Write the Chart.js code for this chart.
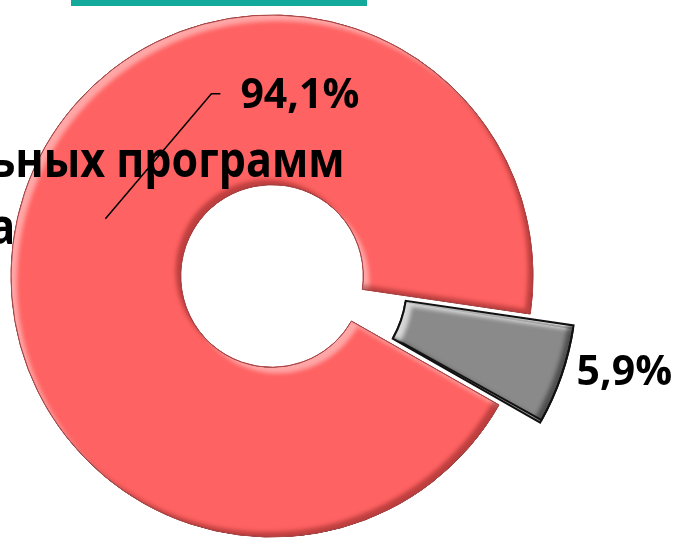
<!DOCTYPE html>
<html>
<head>
<meta charset="utf-8">
<script src="https://cdn.jsdelivr.net/npm/chart.js@4.4.0/dist/chart.umd.min.js"></script>
<style>
  html, body { margin: 0; padding: 0; background: #fff; }
  #wrap { position: relative; width: 673px; height: 538px; overflow: hidden; }
  #bar { position: absolute; left: 71px; top: 0; width: 296px; height: 6px; background: #13a99a; }
  .title { position: absolute; white-space: nowrap;
           font-family: "Open Sans", sans-serif; font-weight: 700; font-size: 50px; line-height: 1;
           color: #000; transform: scaleX(0.86); transform-origin: right bottom; z-index: 2; }
  canvas { position: absolute; left: 0; top: 0; }
</style>
</head>
<body>
<div id="wrap">
  <canvas id="c" width="673" height="538"></canvas>
  <div id="bar"></div>
  <div class="title" style="top:133px; right:328px;">ьных программ</div>
  <div class="title" style="top:200px; right:658px;">а</div>
</div>
<script>
// values
const labels = ['Доля 1', 'Доля 2'];
const shares = [94.1, 5.9];
const shareText = ['94,1%', '5,9%'];
const fills = ['#ff6262', '#8a8a8a'];
const edges = ['#b44848', '#111111'];

function arcShape(ctx, el) {
  const p = el.getProps(['x', 'y', 'startAngle', 'endAngle', 'innerRadius', 'outerRadius', 'circumference'], true);
  const off = (el.options.offset || 0) / 4;
  const half = (p.startAngle + p.endAngle) / 2;
  const fix = 1 - Math.sin(Math.min(Math.PI, p.circumference || 0));
  const cx = p.x + Math.cos(half) * off, cy = p.y + Math.sin(half) * off;
  const ro = off * fix;
  ctx.moveTo(cx + Math.cos(p.startAngle) * (p.outerRadius + ro), cy + Math.sin(p.startAngle) * (p.outerRadius + ro));
  ctx.arc(cx, cy, p.outerRadius + ro, p.startAngle, p.endAngle);
  ctx.arc(cx, cy, p.innerRadius + ro, p.endAngle, p.startAngle, true);
  ctx.closePath();
}

// soft bevel: light inner edge toward top-left, dark toward bottom-right
const bevel = {
  id: 'bevel',
  afterDatasetsDraw(chart) {
    const ctx = chart.ctx;
    const shades = [
      ['rgba(255,190,190,0.75)', 'rgba(110,20,20,0.45)'],
      ['rgba(235,235,235,0.8)', 'rgba(20,20,20,0.5)']
    ];
    chart.getDatasetMeta(0).data.forEach((el, i) => {
      [[6, 6, shades[i][0]], [-5, -5, shades[i][1]]].forEach(([dx, dy, col]) => {
        ctx.save();
        ctx.beginPath();
        arcShape(ctx, el);
        ctx.clip();
        ctx.beginPath();
        ctx.rect(-1000, -1000, 3000, 3000);
        arcShape(ctx, el);
        ctx.shadowColor = col;
        ctx.shadowOffsetX = dx;
        ctx.shadowOffsetY = dy;
        ctx.shadowBlur = 4;
        ctx.fillStyle = '#000';
        ctx.fill('evenodd');
        ctx.restore();
      });
      // redraw thin outline
      ctx.save();
      ctx.beginPath();
      arcShape(ctx, el);
      ctx.lineWidth = i === 0 ? 1 : 2;
      ctx.strokeStyle = edges[i];
      ctx.lineJoin = 'miter';
      ctx.stroke();
      ctx.restore();
    });
  }
};

const pctLabels = {
  id: 'pctLabels',
  afterDraw(chart) {
    const ctx = chart.ctx;
    const arcs = chart.getDatasetMeta(0).data;
    ctx.save();
    ctx.font = 'bold 41px "Open Sans"';
    ctx.fillStyle = '#000';
    ctx.textBaseline = 'middle';
    ctx.textAlign = 'left';
    // big slice: leader line from the ring centre
    const a = arcs[0].getCenterPoint();
    const elbow = { x: a.x + 106, y: a.y - 125 };
    ctx.beginPath();
    ctx.moveTo(a.x, a.y);
    ctx.lineTo(elbow.x, elbow.y);
    ctx.lineTo(elbow.x + 9, elbow.y);
    ctx.lineWidth = 1.5;
    ctx.strokeStyle = '#000';
    ctx.stroke();
    ctx.fillText(shareText[0], elbow.x + 29, elbow.y + 3);
    // small slice: label outside
    const b = arcs[1].getCenterPoint();
    ctx.fillText(shareText[1], b.x + 86, b.y + 22);
    ctx.restore();
  }
};

new Chart(document.getElementById('c'), {
  type: 'doughnut',
  data: {
    labels: labels,
    datasets: [{
      data: shares,
      backgroundColor: fills,
      borderColor: edges,
      borderWidth: [1, 2],
      offset: [0, 110],
      hoverOffset: 0
    }]
  },
  options: {
    responsive: false,
    animation: false,
    rotation: 119.6,
    cutout: '35%',
    radius: 261,
    layout: { padding: { left: 0, right: 129, top: 14, bottom: 0 } },
    plugins: { legend: { display: false }, tooltip: { enabled: false } },
    events: []
  },
  plugins: [bevel, pctLabels]
});
</script>
</body>
</html>
